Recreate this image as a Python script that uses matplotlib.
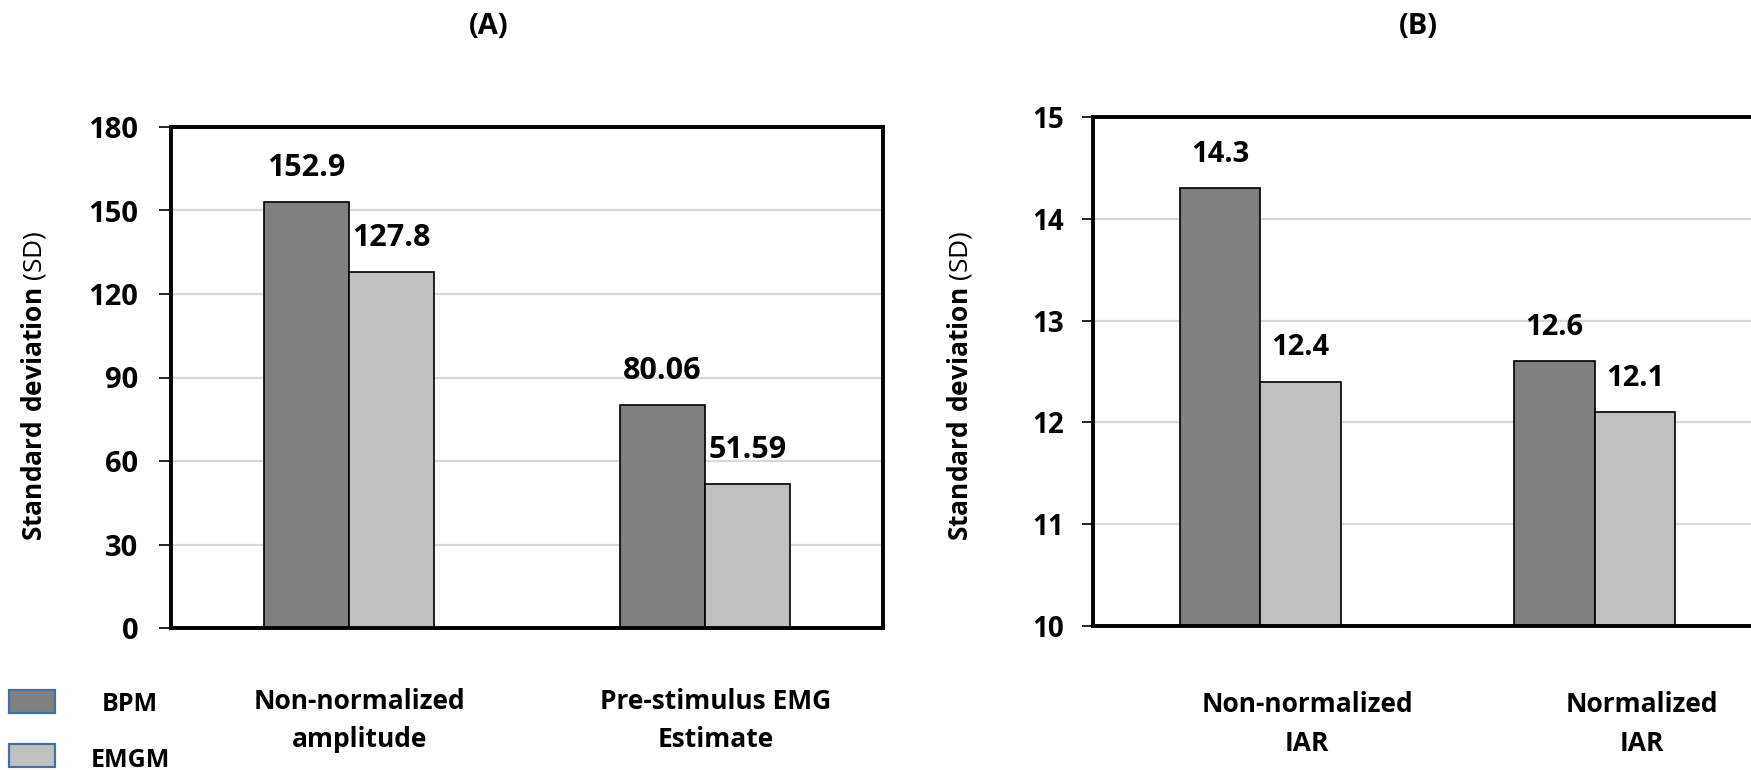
import numpy as np
import matplotlib
matplotlib.use('Agg')
import matplotlib.pyplot as plt
from matplotlib.patches import Rectangle

FONT = 'Open Sans'
plt.rcParams['font.family'] = [FONT, 'DejaVu Sans']
plt.rcParams['mathtext.fontset'] = 'custom'
plt.rcParams['mathtext.rm'] = FONT
plt.rcParams['mathtext.bf'] = FONT + ':bold'

# ---------------- data ----------------
series = ['BPM', 'EMGM']
colors = ['#808080', '#c0c0c0']

cats_a = ['Non-normalized\namplitude', 'Pre-stimulus EMG\nEstimate']
bpm_a = [152.9, 80.06]
emgm_a = [127.8, 51.59]
yticks_a = [0, 30, 60, 90, 120, 150, 180]

cats_b = ['Non-normalized\nIAR', 'Normalized\nIAR']
bpm_b = [14.3, 12.6]
emgm_b = [12.4, 12.1]
yticks_b = [10, 11, 12, 13, 14, 15]

titles = ['(A)', '(B)']
ylabel = r'$\mathbf{Standard\ deviation}$ (SD)'

W, H = 1751, 771
fig = plt.figure(figsize=(W / 100, H / 100), dpi=100)


def fx(px):
    return px / W


def fy(py):
    return 1 - py / H


ax_a = fig.add_axes([fx(171), fy(628), fx(883 - 171), (628 - 127) / H])
ax_b = fig.add_axes([fx(1093), fy(626), fx(1762 - 1093), (626 - 117) / H])


def panel(ax, cats, vals_list, yticks, fs_tick, fs_val, tick_len, tick_pad,
          cat_off, cat_pad):
    x = np.arange(len(cats))
    w = 0.24
    for i, (vals, c) in enumerate(zip(vals_list, colors)):
        pos = x + (i - 0.5) * w
        ax.bar(pos, vals, w, color=c, edgecolor='black', linewidth=1.2)
        for p, v in zip(pos, vals):
            ax.annotate(str(v), (p, v), xytext=(0, 19), textcoords='offset points',
                        ha='center', va='baseline', fontsize=fs_val,
                        fontweight='bold', color='black')
    ax.set_xlim(-0.5, 1.5)
    ax.set_ylim(yticks[0], yticks[-1])
    ax.set_yticks(yticks)
    ax.yaxis.grid(True, color='#d9d9d9', linewidth=1.6)
    ax.set_axisbelow(True)
    ax.set_xticks([])
    for s in ax.spines.values():
        s.set_linewidth(2.8)
        s.set_color('black')
    ax.tick_params(axis='y', length=tick_len, width=1.2, pad=tick_pad,
                   labelsize=fs_tick, colors='black')
    for lbl in ax.get_yticklabels():
        lbl.set_fontweight('bold')
    for xi, cat in zip(x, cats):
        ax.annotate(cat, (xi + cat_off, 0), xycoords=('data', 'axes fraction'),
                    xytext=(0, -cat_pad), textcoords='offset points',
                    ha='center', va='top', fontsize=19, fontweight='bold',
                    linespacing=1.55)


panel(ax_a, cats_a, [bpm_a, emgm_a], yticks_a, 21, 22, 8.6, 15.0, 0.03, 43)
panel(ax_b, cats_b, [bpm_b, emgm_b], yticks_b, 20, 21, 8.0, 13.0, 0.14, 47)

# titles
fig.text(fx(489), fy(26), titles[0], ha='center', va='center',
         fontsize=21, fontweight='bold')
fig.text(fx(1418), fy(26), titles[1], ha='center', va='center',
         fontsize=21, fontweight='bold')

# y labels
fig.text(fx(33), fy(386), ylabel, rotation=90, ha='center', va='center', fontsize=19)
fig.text(fx(959), fy(386), ylabel, rotation=90, ha='center', va='center', fontsize=19)

# legend (manual, bottom-left)
leg_boxes = [(690, 713), (744, 767)]
leg_text_base = [711, 767]
for name, c, (top, bot), base in zip(series, colors, leg_boxes, leg_text_base):
    fig.patches.append(Rectangle((fx(9), fy(bot)), fx(46), (bot - top) / H,
                                 transform=fig.transFigure, facecolor=c,
                                 edgecolor='#41719c', linewidth=1.6))
    fig.text(fx(130), fy(base), name, ha='center', va='baseline',
             fontsize=18, fontweight='bold')

fig.savefig('out.png', dpi=100)
